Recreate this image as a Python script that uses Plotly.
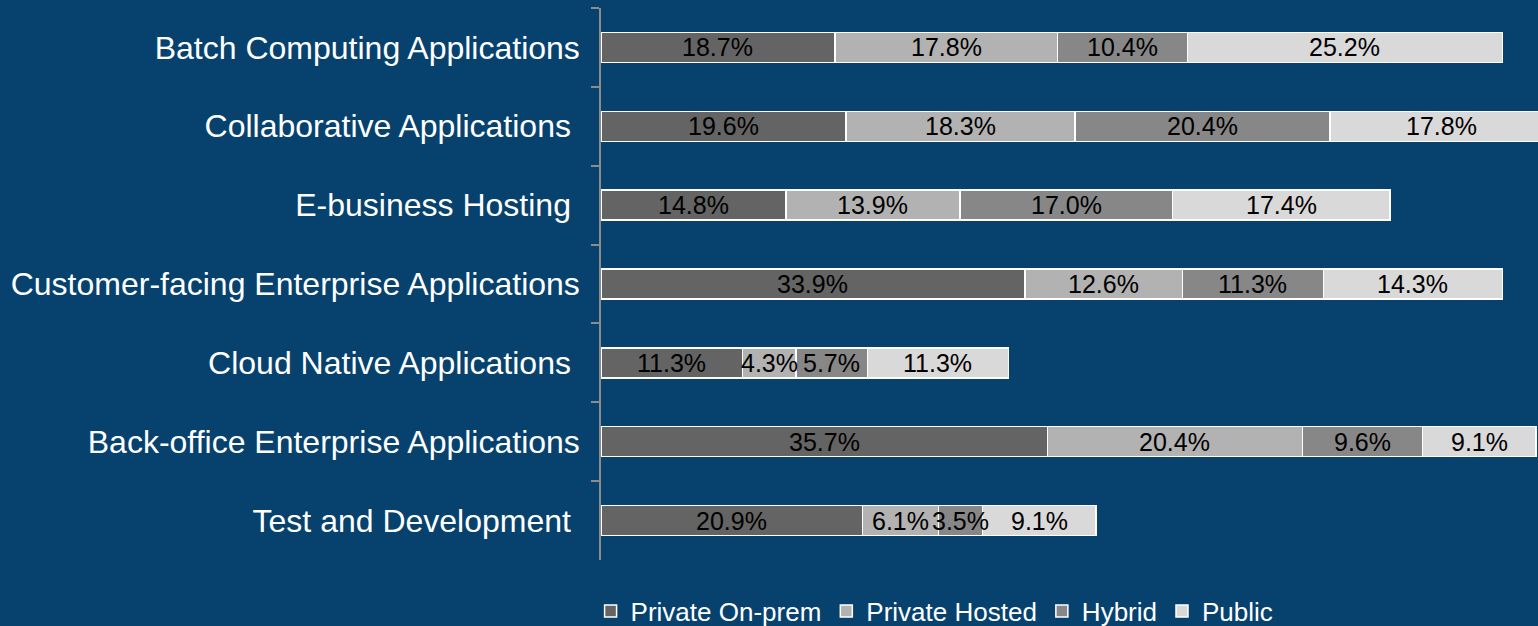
import plotly.graph_objects as go

# categories, top to bottom
categories = [
    "Batch Computing Applications",
    "Collaborative Applications\u00a0",
    "E-business Hosting\u00a0",
    "Customer-facing Enterprise Applications",
    "Cloud Native Applications\u00a0",
    "Back-office Enterprise Applications",
    "Test and Development\u00a0",
]

private_onprem = [18.7, 19.6, 14.8, 33.9, 11.3, 35.7, 20.9]
private_hosted = [17.8, 18.3, 13.9, 12.6, 4.3, 20.4, 6.1]
hybrid = [10.4, 20.4, 17.0, 11.3, 5.7, 9.6, 3.5]
public = [25.2, 17.8, 17.4, 14.3, 11.3, 9.1, 9.1]

series = [
    ("Private On-prem", private_onprem, "#646464"),
    ("Private Hosted", private_hosted, "#B2B2B2"),
    ("Hybrid", hybrid, "#878787"),
    ("Public", public, "#D9D9D9"),
]

bg = "#07426E"
font = "Liberation Sans, Arial"

fig = go.Figure()
base = [0.0] * len(categories)
for name, vals, color in series:
    fig.add_trace(go.Bar(
        y=categories,
        x=vals,
        name=name,
        orientation="h",
        width=0.38,
        marker=dict(color=color, line=dict(color="white", width=1.5)),
        hoverinfo="x+y+name",
    ))
    # value labels centred in each segment (stacked positions)
    for cat, b, v in zip(categories, base, vals):
        fig.add_annotation(
            x=b + v / 2, y=cat, text=f"{v:.1f}%", showarrow=False,
            font=dict(family=font, size=25, color="black"),
        )
    base = [b + v for b, v in zip(base, vals)]

fig.update_layout(
    barmode="stack",
    width=1538,
    height=626,
    paper_bgcolor=bg,
    plot_bgcolor=bg,
    margin=dict(l=601, r=0, t=8, b=66, autoexpand=False),
    font=dict(family=font, color="white"),
    showlegend=True,
    legend=dict(
        orientation="h",
        xref="container",
        yref="container",
        x=0.384,
        xanchor="left",
        y=0.024,
        yanchor="middle",
        font=dict(size=26, color="white"),
        bgcolor="rgba(0,0,0,0)",
        traceorder="normal",
    ),
    xaxis=dict(
        range=[0, 74.95],
        visible=False,
        showgrid=False,
        zeroline=False,
    ),
    yaxis=dict(
        type="category",
        categoryorder="array",
        categoryarray=categories,
        range=[6.5, -0.5],
        showline=True,
        linecolor="#8C8C8C",
        linewidth=1.5,
        ticks="outside",
        tickson="boundaries",
        ticklen=8,
        tickwidth=1.5,
        tickcolor="#8C8C8C",
        ticklabelstandoff=13,
        tickfont=dict(size=32, color="white"),
        showgrid=False,
        zeroline=False,
    ),
)

fig.write_html(
    "out.html",
    config={"displayModeBar": False},
    post_script="document.body.style.margin='0';document.body.style.background='" + bg + "';",
)
